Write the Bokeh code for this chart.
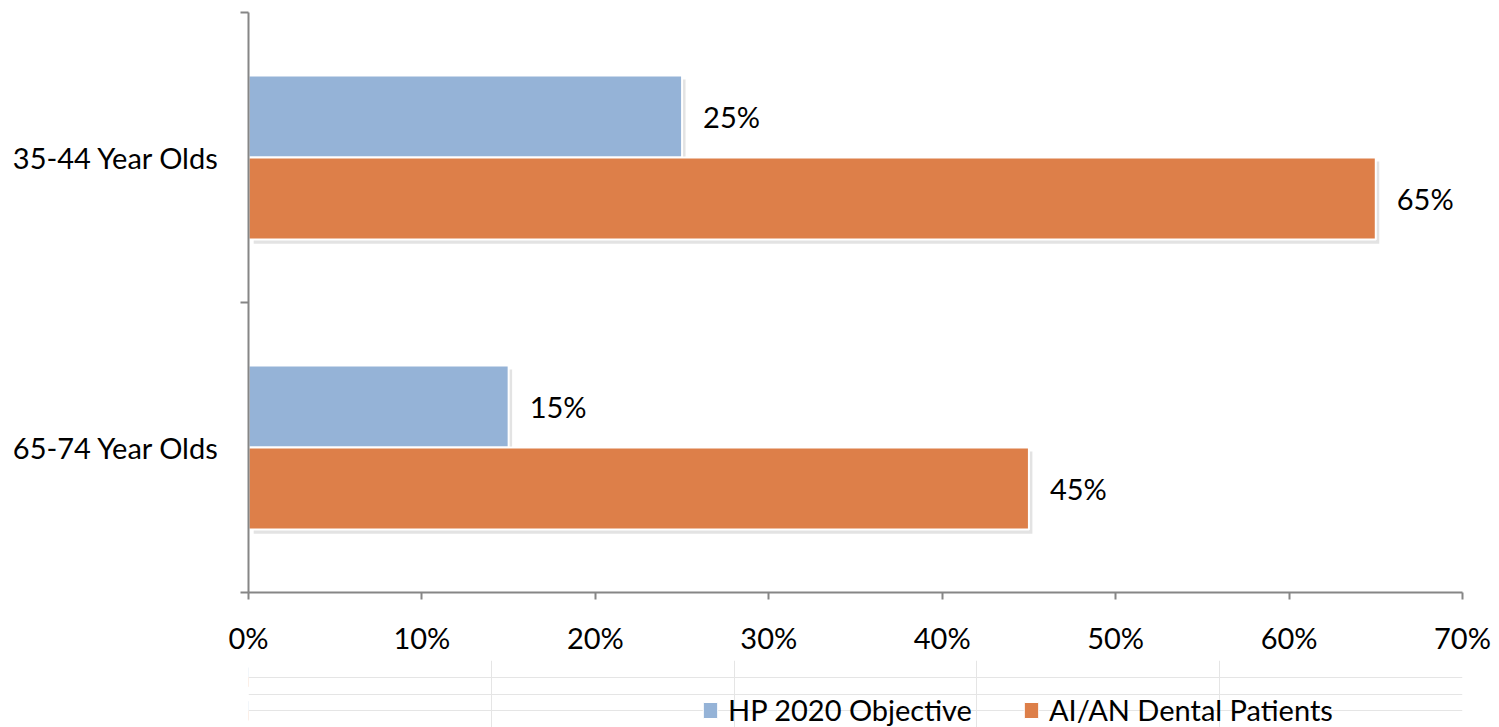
from bokeh.plotting import figure
from bokeh.layouts import column
from bokeh.models import (ColumnDataSource, Range1d, LinearAxis, FixedTicker,
                          PrintfTickFormatter, Legend, LegendItem)
from bokeh.transform import dodge
from bokeh.core.properties import value
from bokeh.embed import file_html
from bokeh.resources import INLINE

# Age groups (bottom to top as drawn) and the two series, in percent
age_groups = ["65-74 Year Olds", "35-44 Year Olds"]
hp2020_objective = [15, 25]
aian_patients = [45, 65]
x_ticks = [0, 10, 20, 30, 40, 50, 60, 70]
series_names = ["HP 2020 Objective", "AI/AN Dental Patients"]

BLUE = "#95B3D7"
ORANGE = "#DD7F49"
AXIS = "#868686"
FONT = "Lato"
FS = "29px"

bar_h = 0.283
centers = [i + 0.5 for i in range(len(age_groups))]

src = ColumnDataSource(dict(
    group=age_groups,
    y_hp=[c + bar_h / 2 for c in centers],
    y_ai=[c - bar_h / 2 for c in centers],
    hp=hp2020_objective,
    aian=aian_patients,
    hp_lbl=[f"{v}%" for v in hp2020_objective],
    aian_lbl=[f"{v}%" for v in aian_patients],
))

# ---- main bar chart ----
p = figure(width=1499, height=660, output_backend="svg", toolbar_location=None,
           y_range=Range1d(0, len(age_groups)), x_range=Range1d(0, 70),
           y_axis_location=None,
           min_border_left=248, min_border_right=37, min_border_top=12, min_border_bottom=68)
p.outline_line_color = None
p.xgrid.grid_line_color = None
p.ygrid.grid_line_color = None
p.background_fill_color = "white"
p.border_fill_color = "white"

# soft drop shadows under the bars
for xcol, ycol in (("hp", "y_hp"), ("aian", "y_ai")):
    p.hbar(y=dodge(ycol, -0.014), right=dodge(xcol, 0.2), left=0.3, height=bar_h,
           source=src, fill_color="#7f7f7f", fill_alpha=0.22, line_color=None)

p.hbar(y="y_hp", right="hp", left=0, height=bar_h,
       source=src, fill_color=BLUE, line_color="white", line_width=2)
p.hbar(y="y_ai", right="aian", left=0, height=bar_h,
       source=src, fill_color=ORANGE, line_color="white", line_width=2)

for col, ycol, lbl in (("hp", "y_hp", "hp_lbl"), ("aian", "y_ai", "aian_lbl")):
    p.text(x=col, y=ycol, text=lbl, source=src,
           x_offset=21, text_align="left", text_baseline="middle",
           text_font=value(FONT), text_font_size=FS, text_color="black")

# x axis
xa = p.xaxis[0]
xa.ticker = FixedTicker(ticks=x_ticks)
xa.formatter = PrintfTickFormatter(format="%d%%")
xa.axis_line_color = AXIS
xa.axis_line_width = 2
xa.major_tick_line_color = AXIS
xa.major_tick_line_width = 2
xa.major_tick_in = 0
xa.major_tick_out = 7
xa.minor_tick_line_color = None
xa.major_label_text_font = FONT
xa.major_label_text_font_size = FS
xa.major_label_text_color = "black"
xa.major_label_standoff = 20

# y axis line with ticks on the category boundaries
edge_axis = LinearAxis(ticker=FixedTicker(ticks=list(range(len(age_groups) + 1))),
                       major_label_text_font_size="0px", major_label_text_color=None,
                       major_label_standoff=0)
edge_axis.axis_line_color = AXIS
edge_axis.axis_line_width = 2
edge_axis.major_tick_line_color = AXIS
edge_axis.major_tick_line_width = 2
edge_axis.major_tick_in = 0
edge_axis.major_tick_out = 8
edge_axis.minor_tick_line_color = None
p.add_layout(edge_axis, "left")

# category labels at the middle of each band
cat_axis = LinearAxis(ticker=FixedTicker(ticks=centers),
                      major_label_overrides={c: g for c, g in zip(centers, age_groups)})
cat_axis.axis_line_color = None
cat_axis.major_tick_line_color = None
cat_axis.minor_tick_line_color = None
cat_axis.major_label_text_font = FONT
cat_axis.major_label_text_font_size = FS
cat_axis.major_label_text_color = "black"
cat_axis.major_label_standoff = 15
p.add_layout(cat_axis, "left")

# ---- legend strip under the chart ----
# same series drawn outside the visible x range, so only their legend entries show
leg = figure(width=1499, height=67, output_backend="svg", toolbar_location=None,
             x_range=Range1d(100, 200), y_range=Range1d(0, len(age_groups)),
             x_axis_location=None, y_axis_location=None, min_border=0)
leg.outline_line_color = None
leg.background_fill_color = "white"
leg.border_fill_color = "white"
lr_hp = leg.hbar(y="y_hp", right="hp", left=0, height=bar_h, source=src,
                 fill_color=BLUE, line_color="white", line_width=1)
lr_ai = leg.hbar(y="y_ai", right="aian", left=0, height=bar_h, source=src,
                 fill_color=ORANGE, line_color="white", line_width=1)

legend = Legend(items=[LegendItem(label=series_names[0], renderers=[lr_hp]),
                       LegendItem(label=series_names[1], renderers=[lr_ai])],
                orientation="horizontal", location=(453, 0),
                glyph_width=18, glyph_height=20, label_standoff=9, spacing=50,
                padding=0, margin=0, border_line_color=None, background_fill_alpha=0,
                label_text_font=FONT, label_text_font_size=FS, label_text_color="black")
leg.add_layout(legend, "center")

open("out.html", "w").write(file_html(column(p, leg, spacing=0), INLINE))
